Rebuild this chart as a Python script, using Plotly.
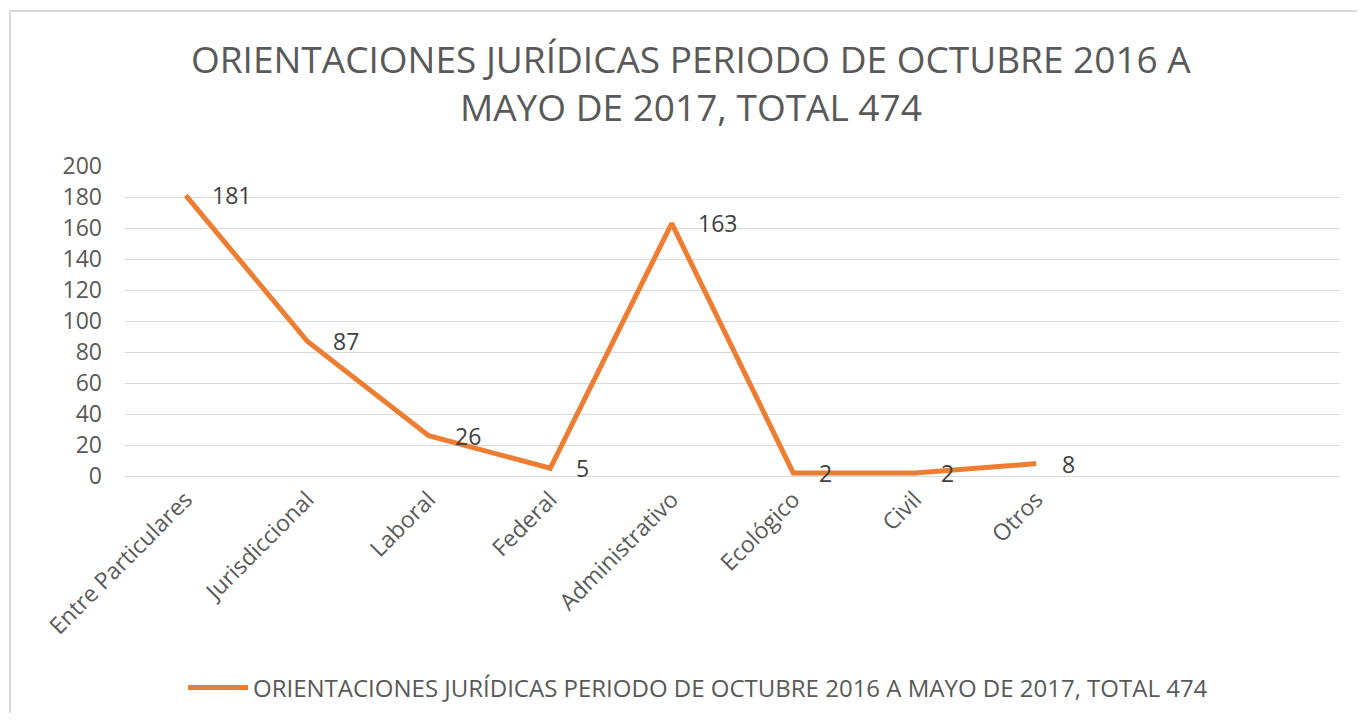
import plotly.graph_objects as go

categories = ["Entre Particulares", "Jurisdiccional", "Laboral", "Federal",
              "Administrativo", "Ecológico", "Civil", "Otros"]
values = [181, 87, 26, 5, 163, 2, 2, 8]
extra_slots = ["", " "]  # empty category slots at the end of the axis
y_ticks = [0, 20, 40, 60, 80, 100, 120, 140, 160, 180, 200]
series_name = "ORIENTACIONES JURÍDICAS PERIODO DE OCTUBRE 2016 A MAYO DE 2017, TOTAL 474"
title_text = "ORIENTACIONES JURÍDICAS PERIODO DE OCTUBRE 2016 A<br>MAYO DE 2017, TOTAL 474"

FONT = "Open Sans"
GREY = "#595959"
ORANGE = "#ED7D31"

OFF = 8  # page body margin
W, H = 1365 - 2 * OFF, 721 - 2 * OFF
L, T = 125 - OFF, 166 - OFF
R = W - (1340 - OFF)
B = H - (476 - OFF)
pw, ph = W - L - R, H - T - B

fig = go.Figure()
fig.add_trace(go.Scatter(
    x=categories, y=values, mode="lines", name=series_name,
    line=dict(color=ORANGE, width=5), showlegend=True,
))

for c, v in zip(categories, values):
    fig.add_annotation(x=c, y=v, text=str(v), showarrow=False,
                       xanchor="left", yanchor="middle", xshift=24,
                       font=dict(family=FONT, size=23, color="#404040"))

def px_x(p):
    return (p - OFF - L) / pw

def px_y(p):
    return (H - B - (p - OFF)) / ph

fig.add_shape(type="rect", xref="paper", yref="paper",
              x0=px_x(10), x1=px_x(1390), y0=px_y(11), y1=px_y(760),
              line=dict(color="#D9D9D9", width=2), fillcolor="rgba(0,0,0,0)")

# chart title
fig.add_annotation(text=title_text, xref="paper", yref="paper",
                   x=px_x(691), y=px_y(83), xanchor="center", yanchor="middle",
                   showarrow=False, align="center",
                   font=dict(family=FONT, size=37, color=GREY))

fig.update_layout(
    width=W, height=H,
    margin=dict(l=L, r=R, t=T, b=B, autoexpand=False),
    paper_bgcolor="white", plot_bgcolor="white",
    font=dict(family=FONT, color=GREY),
    xaxis=dict(
        type="category",
        categoryorder="array", categoryarray=categories + extra_slots,
        range=[-0.5, 9.5],
        tickangle=-45, tickfont=dict(family=FONT, size=23, color=GREY),
        showgrid=False, showline=True, linecolor="#D9D9D9", linewidth=1,
        ticks="", fixedrange=True,
    ),
    yaxis=dict(
        range=[0, 200], tickvals=y_ticks,
        tickfont=dict(family=FONT, size=23, color=GREY),
        showgrid=True, gridcolor="#D9D9D9", gridwidth=1,
        zeroline=True, zerolinecolor="#D9D9D9", zerolinewidth=1,
        showline=False, ticks="", ticklen=0, ticklabelstandoff=22,
    ),
    legend=dict(orientation="h", x=px_x(698), xanchor="center",
                y=px_y(688), yanchor="middle",
                font=dict(family=FONT, size=24, color=GREY),
                itemwidth=60),
)

fig.write_html("out.html")
